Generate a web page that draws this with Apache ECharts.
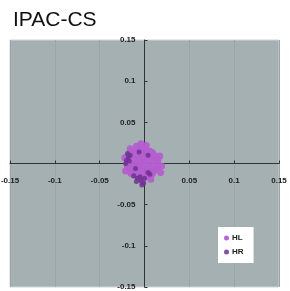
<!DOCTYPE html>
<html>
<head>
<meta charset="utf-8">
<script src="https://cdn.jsdelivr.net/npm/echarts@6/dist/echarts.min.js"></script>
<style>
html,body{margin:0;padding:0;background:#fff;}
#main{width:290px;height:291px;}
</style>
</head>
<body>
<div id="main"></div>
<script>
// tick values shown on the axes
var tickLabels = ['-0.15', '-0.1', '-0.05', '0.05', '0.1', '0.15'];

// HL points [x, y]
var hlData = [
	// outer edge
	[0.014,0.001],[0.012,0.009],[0.006,0.015],[-0.003,0.018],[-0.011,0.015],[-0.017,0.009],
	[-0.019,0.0],[-0.017,-0.008],[-0.012,-0.014],[-0.003,-0.017],[0.005,-0.015],[0.012,-0.008],
	[0.015,-0.004],[0.009,0.013],[0.001,0.017],[-0.007,0.017],[-0.015,0.013],[-0.019,0.005],
	[-0.019,-0.004],[-0.015,-0.012],[-0.008,-0.016],[0.001,-0.016],[0.009,-0.012],[0.015,0.005],
	// middle ring
	[0.009,0.003],[0.007,0.008],[0.002,0.011],[-0.004,0.012],[-0.009,0.010],[-0.013,0.005],
	[-0.014,-0.001],[-0.012,-0.007],[-0.008,-0.010],[-0.002,-0.011],[0.004,-0.010],[0.008,-0.005],
	// inner
	[0.003,0.003],[-0.001,0.006],[-0.006,0.005],[-0.008,0.0],[-0.006,-0.005],[-0.001,-0.006],
	[0.003,-0.003],[-0.003,0.0],[0.0,0.001],[-0.004,-0.002],
	// spikes
	[-0.004,0.024],[0.002,0.022],[-0.009,0.021],[-0.016,0.018],[0.019,-0.003],[0.018,-0.011],
	[-0.002,-0.022],[0.007,-0.019],[-0.022,0.007],[-0.021,-0.009],[0.017,0.009]
];

// HR points [x, y]
var hrData = [
	[-0.020,0.004],[-0.018,0.008],[-0.019,0.012],[-0.017,0.003],[-0.016,0.010],[-0.021,0.000],
	[-0.012,-0.015],[-0.008,-0.018],[-0.004,-0.021],[-0.001,-0.024],[-0.005,-0.016],
	[-0.009,-0.022],[0.0,-0.018],[-0.003,-0.026],
	[0.004,-0.011],[0.006,-0.013],
	[-0.006,0.014],[0.004,0.010],[-0.010,-0.006]
];

var chart = echarts.init(document.getElementById('main'));

function fmt(v) {
	var s = String(Math.round(v * 100) / 100);
	return tickLabels.indexOf(s) >= 0 ? s : '';
}

var option = {
	animation: false,
	title: {
		text: 'IPAC-CS',
		left: 8,
		top: 5,
		textStyle: { fontSize: 21, fontWeight: 'normal', color: '#111', fontFamily: 'Liberation Sans' }
	},
	legend: {
		orient: 'vertical',
		left: 218,
		top: 227,
		backgroundColor: '#fff',
		padding: [7, 10, 7, 6],
		itemGap: 6,
		itemWidth: 5,
		itemHeight: 5,
		icon: 'circle',
		textStyle: { fontSize: 8, fontWeight: 'bold', color: '#222', padding: [0, 0, 0, -2] },
		data: ['HL', 'HR']
	},
	grid: {
		left: 10,
		right: 11,
		top: 40,
		bottom: 4,
		outerBoundsMode: 'none',
		containLabel: false,
		show: true,
		backgroundColor: '#a5b0b3',
		borderColor: '#cfd5d7',
		borderWidth: 1
	},
	xAxis: {
		type: 'value',
		min: -0.15,
		max: 0.15,
		interval: 0.05,
		offset: -123.5,
		axisLine: { onZero: false, lineStyle: { color: '#333', width: 1 } },
		axisTick: { inside: true, length: 3, lineStyle: { color: '#333' } },
		axisLabel: { formatter: fmt, fontSize: 8, fontWeight: 'bold', color: '#222', margin: 13, showMinLabel: true, showMaxLabel: true },
		splitLine: { show: true, lineStyle: { color: '#9ba6a9', width: 1 } }
	},
	yAxis: {
		type: 'value',
		min: -0.15,
		max: 0.15,
		interval: 0.05,
		offset: -134.5,
		axisLine: { onZero: false, lineStyle: { color: '#333', width: 1 } },
		axisTick: { inside: true, length: 3, lineStyle: { color: '#333' } },
		axisLabel: { formatter: fmt, fontSize: 8, fontWeight: 'bold', color: '#222', margin: 9, showMinLabel: true, showMaxLabel: true },
		splitLine: { show: false }
	},
	series: [
		{
			name: 'HL',
			type: 'scatter',
			symbolSize: 7,
			itemStyle: { color: '#b45ed0', opacity: 0.95 },
			data: hlData
		},
		{
			name: 'HR',
			type: 'scatter',
			symbolSize: 5,
			itemStyle: { color: '#6e3292', opacity: 0.85 },
			data: hrData
		}
	]
};

chart.setOption(option);
</script>
</body>
</html>
